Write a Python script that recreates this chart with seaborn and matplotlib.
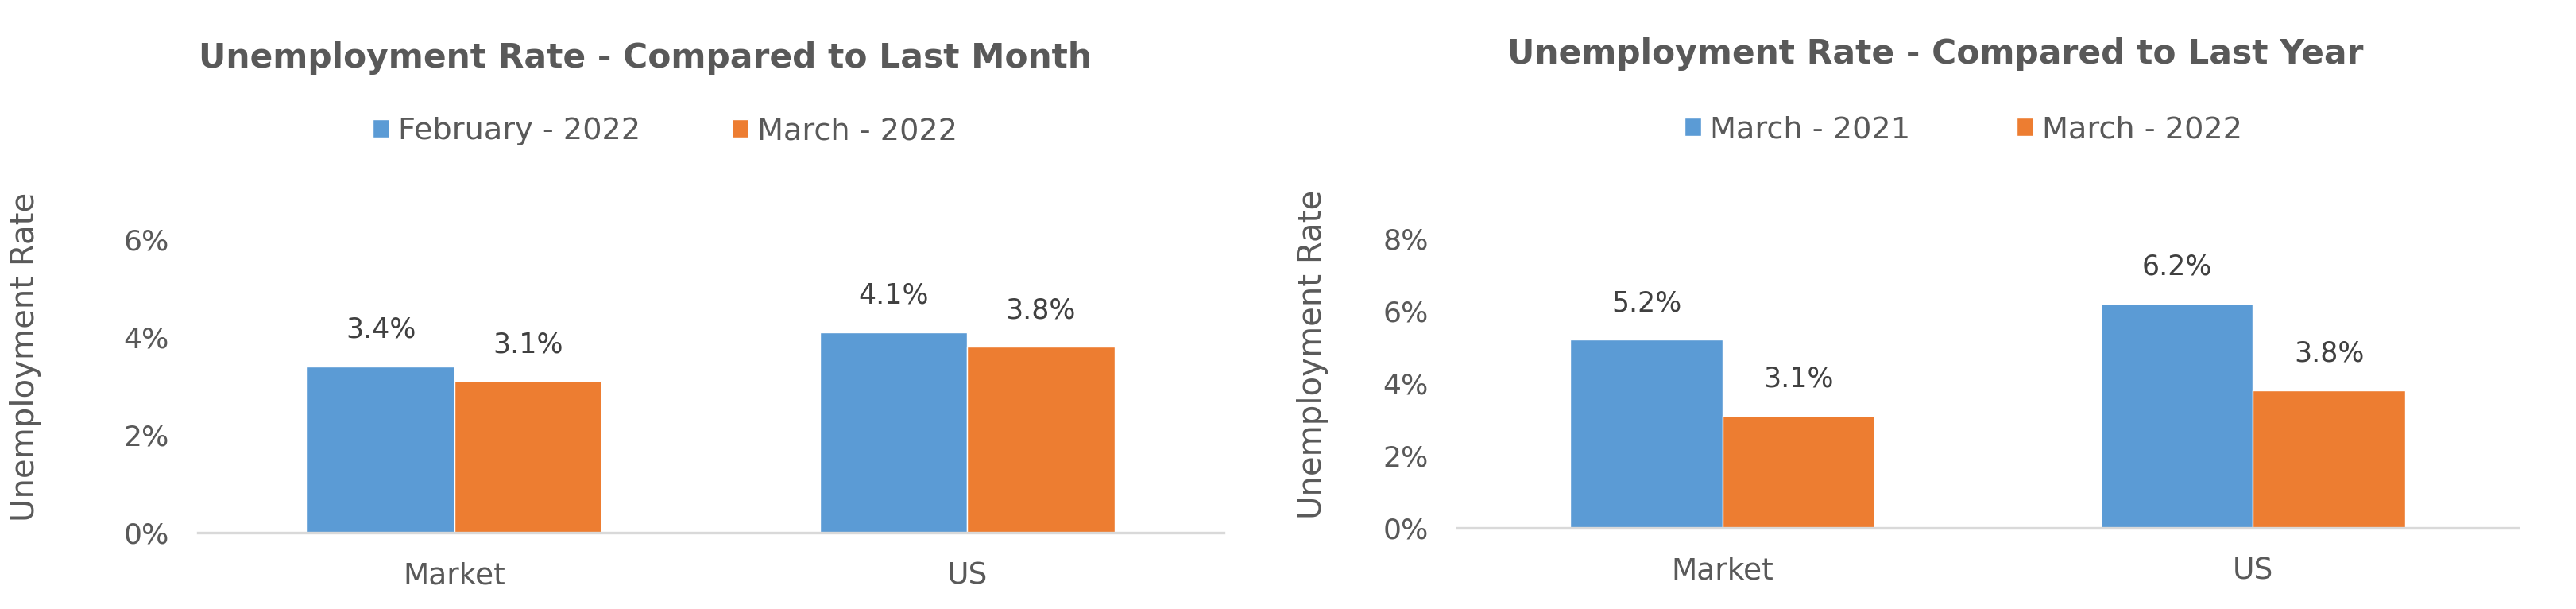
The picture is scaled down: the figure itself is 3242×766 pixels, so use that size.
import pandas as pd
import matplotlib
matplotlib.use("Agg")
import matplotlib.pyplot as plt
import seaborn as sns
from matplotlib.ticker import FuncFormatter

# data
categories = ["Market", "US"]
month_series = ["February - 2022", "March - 2022"]
month_values = [[3.4, 4.1], [3.1, 3.8]]
year_series = ["March - 2021", "March - 2022"]
year_values = [[5.2, 6.2], [3.1, 3.8]]

BLUE = "#5B9BD5"
ORANGE = "#ED7D31"
GRAY = "#595959"
DARK = "#404040"

sns.set_style("white")
plt.rcParams["font.family"] = ["DejaVu Sans"]


def long_df(series, values):
    rows = []
    for s, vals in zip(series, values):
        for c, v in zip(categories, vals):
            rows.append({"Category": c, "Series": s, "Rate": v})
    return pd.DataFrame(rows)


fig = plt.figure(figsize=(32.42, 7.66), dpi=100)
W, H = 3242, 766

panels = [
    # title, series, values, ymax, axes box px (x0, x1, ybottom, ytop), title pos, legend pos, colspacing, ylabel coords
    ("Unemployment Rate - Compared to Last Month", month_series, month_values, 6,
     (249, 1540, 670, 301), (812, 73), (837, 165), 3.0, (-0.1526, 0.599)),
    ("Unemployment Rate - Compared to Last Year", year_series, year_values, 8,
     (1834, 3169, 664, 300), (2436, 68), (2471, 163), 3.5, (-0.1213, 0.600)),
]

for title, series, values, ymax, box, tpos, lpos, colsp, ylc in panels:
    x0, x1, yb, yt = box
    ax = fig.add_axes([x0 / W, 1 - yb / H, (x1 - x0) / W, (yb - yt) / H])
    df = long_df(series, values)
    sns.barplot(data=df, x="Category", y="Rate", hue="Series", order=categories,
                hue_order=series, palette=[BLUE, ORANGE], width=0.574, gap=0,
                saturation=1, ax=ax, errorbar=None)
    handles, labels = ax.get_legend_handles_labels()
    ax.get_legend().remove()

    for cont in ax.containers:
        ax.bar_label(cont, labels=[f"{v:.1f}%" for v in cont.datavalues],
                     padding=21, fontsize=25, color=DARK)

    ax.set_xlim(-0.5, 1.5)
    ax.set_ylim(0, ymax)
    ax.set_yticks(range(0, ymax + 1, 2))
    ax.yaxis.set_major_formatter(FuncFormatter(lambda v, p: f"{v:.0f}%"))
    ax.tick_params(axis="y", length=0, pad=26, labelsize=26, labelcolor=GRAY)
    ax.tick_params(axis="x", length=0, pad=26, labelsize=27, labelcolor=GRAY)
    ax.set_xlabel("")
    ax.set_ylabel("Unemployment Rate", fontsize=29, color=GRAY)
    ax.yaxis.set_label_coords(*ylc)
    for side in ["top", "right", "left"]:
        ax.spines[side].set_visible(False)
    ax.spines["bottom"].set_color("#D9D9D9")
    ax.spines["bottom"].set_linewidth(2.4)
    ax.grid(False)

    fig.text(tpos[0] / W, 1 - tpos[1] / H, title, ha="center", va="center",
             fontsize=30.5, fontweight="bold", color=GRAY)
    fig.legend(handles, labels, loc="center",
               bbox_to_anchor=(lpos[0] / W, 1 - lpos[1] / H), ncol=2,
               frameon=False, fontsize=27.5, labelcolor=GRAY,
               handlelength=0.55, handleheight=0.55, handletextpad=0.3,
               columnspacing=colsp, borderpad=0, borderaxespad=0)

fig.savefig("out.png", dpi=100)
